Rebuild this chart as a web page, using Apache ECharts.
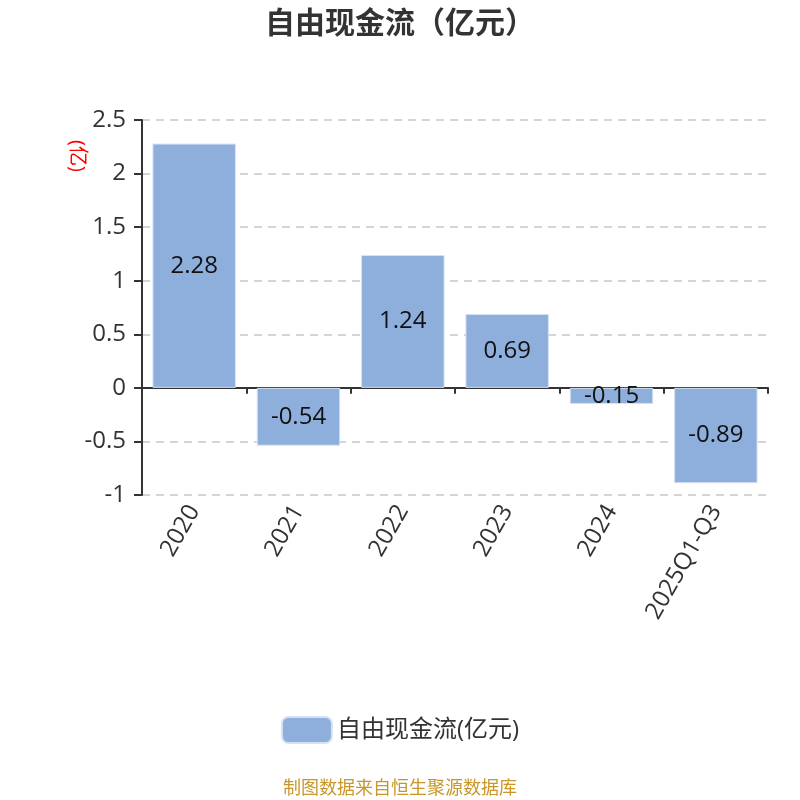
<!DOCTYPE html>
<html>
<head>
<meta charset="utf-8">
<script src="https://cdn.jsdelivr.net/npm/echarts@6/dist/echarts.min.js"></script>
<style>html,body{margin:0;padding:0;background:#fff}#c{width:800px;height:800px}</style>
</head>
<body>
<div id="c"></div>
<script>
var categories = ['2020', '2021', '2022', '2023', '2024', '2025Q1-Q3'];
var values = [2.28, -0.54, 1.24, 0.69, -0.15, -0.89];
var yTicks = { min: -1, max: 2.5, interval: 0.5 };
var seriesName = '自由现金流(亿元)';
var titleText = '自由现金流（亿元）';
var unitText = '(亿)';
var footerText = '制图数据来自恒生聚源数据库';

var FONT = '"Open Sans", "Noto Sans CJK SC", sans-serif';
var chart = echarts.init(document.getElementById('c'));
chart.setOption({
  animation: false,
  backgroundColor: '#fff',
  textStyle: { fontFamily: FONT },
  title: {
    text: titleText,
    left: 'center',
    top: 4,
    textStyle: { fontSize: 30, fontWeight: 'bold', color: '#333', fontFamily: FONT }
  },
  legend: {
    bottom: 51,
    left: 'center',
    itemWidth: 50,
    itemHeight: 26,
    itemGap: 10,
    icon: 'roundRect',
    textStyle: { fontSize: 24, color: '#333', fontFamily: FONT },
    data: [seriesName]
  },
  grid: { left: 142, right: 32, top: 120, bottom: 305, containLabel: false },
  xAxis: [{
    type: 'category',
    data: categories,
    axisLine: { onZero: true, lineStyle: { color: '#333', width: 2 } },
    axisTick: { show: true, length: 6, lineStyle: { color: '#333', width: 2 } },
    axisLabel: { show: false }
  }, {
    type: 'category',
    data: categories,
    position: 'bottom',
    axisLine: { show: false, onZero: false },
    axisTick: { show: false },
    axisLabel: { show: true, rotate: 60, fontSize: 24, color: '#333', margin: 12, fontFamily: FONT }
  }],
  yAxis: {
    type: 'value',
    min: yTicks.min,
    max: yTicks.max,
    interval: yTicks.interval,
    axisLine: { show: true, lineStyle: { color: '#333', width: 2 } },
    axisTick: { show: true, length: 8, lineStyle: { color: '#333', width: 2 } },
    axisLabel: { fontSize: 24, color: '#333', margin: 16, fontFamily: FONT },
    splitLine: { show: true, lineStyle: { color: '#c8c8c8', type: [8, 6], width: 1.5 } }
  },
  graphic: [{
    type: 'text',
    left: 67,
    top: 140,
    rotation: -Math.PI / 2,
    style: { text: unitText, fill: '#ff0000', font: '20px ' + FONT }
  }, {
    type: 'text',
    left: 'center',
    bottom: 2,
    style: { text: footerText, fill: '#c8962a', font: '18px ' + FONT }
  }],
  series: [{
    name: seriesName,
    type: 'bar',
    xAxisIndex: 0,
    data: values,
    barWidth: '80%',
    itemStyle: { color: '#8eaedb', borderColor: '#d6e2f3', borderWidth: 1 },
    label: {
      show: true,
      position: 'inside',
      fontSize: 24,
      color: '#111',
      fontFamily: FONT
    }
  }]
});
</script>
</body>
</html>
